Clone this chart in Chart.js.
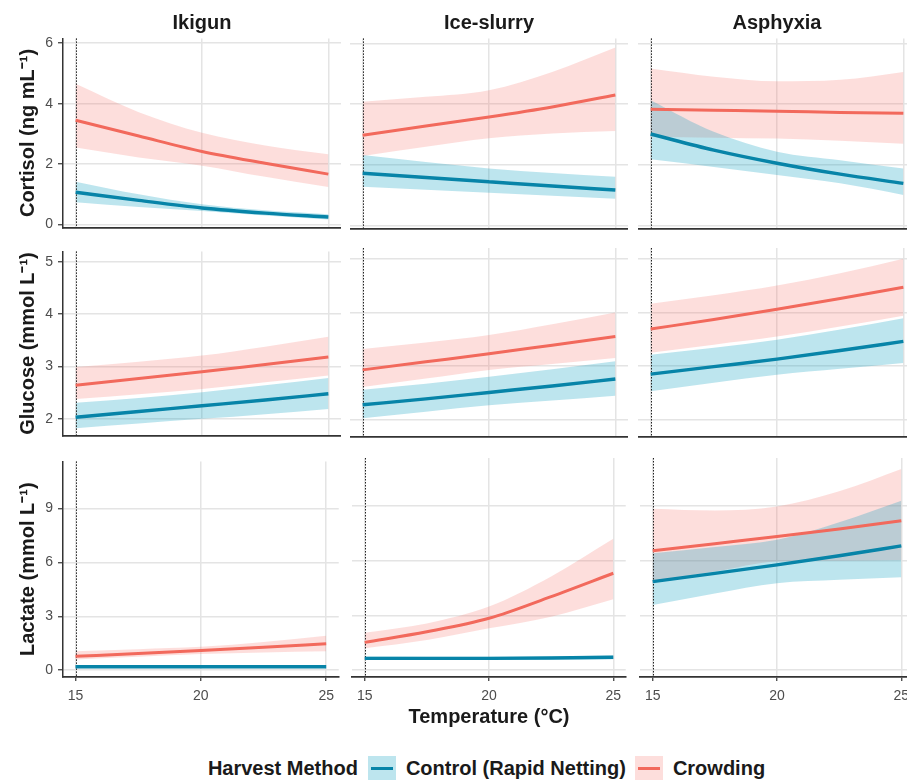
<!DOCTYPE html>
<html>
<head>
<meta charset="utf-8">
<script src="https://cdn.jsdelivr.net/npm/chart.js@4.4.1/dist/chart.umd.min.js"></script>
<style>
  html, body { margin: 0; padding: 0; background: #fff; }
  body { width: 907px; height: 780px; position: relative; overflow: hidden; font-family: "Liberation Sans", Arial, sans-serif; }
  .panel { position: absolute; }
  #legend { position: absolute; left: 0; top: 756px; width: 982px; height: 24px; display: flex; justify-content: center; align-items: center;
            font-weight: bold; font-size: 20px; color: #1a1a1a; white-space: nowrap; }
  #legend .title { margin-right: 10px; }
  #legend .key { display: inline-block; width: 28px; height: 24px; margin-right: 10px; position: relative; }
  #legend .key span { position: absolute; left: 3px; right: 3px; top: 10.5px; height: 3px; }
  #legend .label { margin-right: 9px; }
</style>
</head>
<body>
<div id="legend"></div>
<script>
const temperature = [15, 17.5, 20, 22.5, 25];
const methods = ['Ikigun', 'Ice-slurry', 'Asphyxia'];
const groups = ['Control (Rapid Netting)', 'Crowding'];
const measures = ['Cortisol (ng mL⁻¹)', 'Glucose (mmol L⁻¹)', 'Lactate (mmol L⁻¹)'];
const xTicks = [15, 20, 25];
const cortisolTicks = [0, 2, 4, 6];
const glucoseTicks = [2, 3, 4, 5];
const lactateTicks = [0, 3, 6, 9];
const cutoffTemp = 15; // dotted line

// each array: one row per harvest method (Ikigun, Ice-slurry, Asphyxia)
const cortisolControl     = [[1.07, 0.80, 0.55, 0.38, 0.25], [1.73, 1.59, 1.45, 1.31, 1.18], [3.02, 2.49, 2.06, 1.70, 1.40]];
const cortisolControlLow  = [[0.74, 0.58, 0.45, 0.30, 0.17], [1.29, 1.19, 1.09, 0.99, 0.89], [2.19, 1.94, 1.67, 1.40, 1.02]];
const cortisolControlHigh = [[1.42, 1.00, 0.67, 0.47, 0.34], [2.33, 2.10, 1.89, 1.74, 1.62], [4.13, 3.09, 2.44, 2.16, 1.89]];
const cortisolCrowd       = [[3.45, 2.93, 2.42, 2.03, 1.67], [2.98, 3.28, 3.58, 3.91, 4.30], [3.83, 3.80, 3.77, 3.73, 3.70]];
const cortisolCrowdLow    = [[2.55, 2.22, 1.95, 1.58, 1.24], [2.30, 2.60, 2.88, 3.04, 3.12], [2.93, 2.90, 2.87, 2.80, 2.70]];
const cortisolCrowdHigh   = [[4.66, 3.72, 3.04, 2.62, 2.33], [4.08, 4.24, 4.46, 5.06, 5.86], [5.17, 4.90, 4.75, 4.80, 5.06]];

const glucoseControl      = [[2.03, 2.14, 2.25, 2.36, 2.48], [2.28, 2.39, 2.51, 2.63, 2.76], [2.85, 2.99, 3.13, 3.29, 3.46]];
const glucoseControlLow   = [[1.82, 1.91, 2.00, 2.09, 2.19], [2.03, 2.15, 2.27, 2.36, 2.45], [2.53, 2.69, 2.84, 2.95, 3.06]];
const glucoseControlHigh  = [[2.31, 2.40, 2.51, 2.64, 2.78], [2.56, 2.67, 2.80, 2.94, 3.09], [3.21, 3.34, 3.49, 3.68, 3.89]];
const glucoseCrowd        = [[2.64, 2.77, 2.90, 3.04, 3.18], [2.93, 3.08, 3.23, 3.39, 3.55], [3.69, 3.87, 4.06, 4.26, 4.47]];
const glucoseCrowdLow     = [[2.38, 2.47, 2.57, 2.70, 2.83], [2.61, 2.77, 2.93, 3.04, 3.15], [3.25, 3.40, 3.55, 3.74, 3.94]];
const glucoseCrowdHigh    = [[2.99, 3.09, 3.21, 3.38, 3.57], [3.32, 3.44, 3.58, 3.78, 4.00], [4.16, 4.32, 4.50, 4.73, 5.00]];

const lactateControl      = [[0.19, 0.19, 0.19, 0.19, 0.19], [0.64, 0.64, 0.64, 0.66, 0.70], [4.85, 5.30, 5.77, 6.27, 6.81]];
const lactateControlLow   = [[0.12, 0.12, 0.12, 0.12, 0.12], [0.56, 0.56, 0.57, 0.58, 0.60], [3.57, 4.20, 4.76, 4.95, 5.09]];
const lactateControlHigh  = [[0.27, 0.27, 0.27, 0.27, 0.27], [0.74, 0.73, 0.73, 0.75, 0.80], [6.41, 6.75, 7.14, 8.10, 9.29]];
const lactateCrowd        = [[0.77, 0.93, 1.10, 1.28, 1.47], [1.52, 2.10, 2.84, 4.03, 5.31], [6.54, 6.93, 7.32, 7.74, 8.19]];
const lactateCrowdLow     = [[0.60, 0.75, 0.90, 0.98, 1.05], [1.19, 1.65, 2.29, 2.93, 3.88], [4.85, 5.40, 5.95, 6.00, 6.04]];
const lactateCrowdHigh    = [[1.06, 1.17, 1.30, 1.57, 1.92], [2.05, 2.56, 3.48, 5.13, 7.20], [8.85, 8.75, 8.97, 9.80, 11.03]];

const ctrlLine = '#0784a8', ctrlFill = 'rgba(0,155,190,0.26)';
const crowdLine = '#f2695c', crowdFill = 'rgba(248,118,109,0.24)';
const tickColor = '#4d4d4d', axisColor = '#333333', gridColor = '#e4e4e4';
const fontFamily = '"Liberation Sans", Arial, sans-serif';
Chart.defaults.font.family = fontFamily;

const rows = [
  { title: measures[0], ticks: cortisolTicks, min: -0.1, max: 6.16,
    ctrl: [cortisolControl, cortisolControlLow, cortisolControlHigh], crowd: [cortisolCrowd, cortisolCrowdLow, cortisolCrowdHigh] },
  { title: measures[1], ticks: glucoseTicks, min: 1.68, max: 5.2,
    ctrl: [glucoseControl, glucoseControlLow, glucoseControlHigh], crowd: [glucoseCrowd, glucoseCrowdLow, glucoseCrowdHigh] },
  { title: measures[2], ticks: lactateTicks, min: -0.38, max: 11.63,
    ctrl: [lactateControl, lactateControlLow, lactateControlHigh], crowd: [lactateCrowd, lactateCrowdLow, lactateCrowdHigh] }
];

// panel placement in the page
const colLeft = [63, 350, 638];
const panelW = 277;
const rowTop = [38, 248, 458];
const rowBottom = [229, 437, 677];

const cutoffLine = {
  id: 'cutoffLine',
  beforeDatasetsDraw(chart) {
    const { ctx, chartArea, scales } = chart;
    const x = Math.round(scales.x.getPixelForValue(cutoffTemp)) + 0.5;
    ctx.save();
    ctx.strokeStyle = '#222';
    ctx.lineWidth = 1;
    ctx.setLineDash([1.5, 1.5]);
    ctx.beginPath();
    ctx.moveTo(x, chartArea.top);
    ctx.lineTo(x, chartArea.bottom);
    ctx.stroke();
    ctx.restore();
  }
};

function pts(arr) {
  return temperature.map((t, i) => ({ x: t, y: arr[i] }));
}

function band(data, fill, color) {
  return { data: pts(data), borderColor: 'transparent', borderWidth: 0, pointRadius: 0,
           fill: fill, backgroundColor: color, cubicInterpolationMode: 'monotone' };
}

rows.forEach((row, r) => {
  methods.forEach((method, c) => {
    const yAxisW = c === 0 ? 63 : 0;
    const xAxisH = r === 2 ? 28 : 12;
    const topPad = r === 0 ? 0 : 10;
    const topBox = r === 0 ? 38.4 : topPad;
    const bottomTitle = r === 2 && c === 1;
    const canvasTop = rowTop[r] - topBox;
    const canvasH = rowBottom[r] - canvasTop + xAxisH + (bottomTitle ? 28 : 0);
    const canvasLeft = colLeft[c] - yAxisW;
    const canvasW = yAxisW + panelW + 1;

    const wrap = document.createElement('div');
    wrap.className = 'panel';
    wrap.style.left = canvasLeft + 'px';
    wrap.style.top = canvasTop + 'px';
    const canvas = document.createElement('canvas');
    canvas.width = canvasW;
    canvas.height = Math.round(canvasH);
    wrap.appendChild(canvas);
    document.body.appendChild(wrap);

    let titleOpts = { display: false };
    if (r === 0) {
      titleOpts = { display: true, text: method, fullSize: false, color: '#1a1a1a',
                    font: { size: 20, weight: 'bold' }, padding: { top: 11, bottom: 3.4 } };
    } else if (bottomTitle) {
      titleOpts = { display: true, text: 'Temperature (°C)', position: 'bottom', fullSize: false, color: '#1a1a1a',
                    font: { size: 20, weight: 'bold' }, padding: { top: 0, bottom: 4 } };
    }

    new Chart(canvas, {
      type: 'line',
      data: {
        datasets: [
          band(row.ctrl[1][c], false, 'transparent'),
          band(row.ctrl[2][c], '-1', ctrlFill),
          band(row.crowd[1][c], false, 'transparent'),
          band(row.crowd[2][c], '-1', crowdFill),
          { label: groups[0], data: pts(row.ctrl[0][c]), borderColor: ctrlLine, borderWidth: 3.4,
            pointRadius: 0, fill: false, cubicInterpolationMode: 'monotone' },
          { label: groups[1], data: pts(row.crowd[0][c]), borderColor: crowdLine, borderWidth: 3,
            pointRadius: 0, fill: false, cubicInterpolationMode: 'monotone' }
        ]
      },
      plugins: [cutoffLine],
      options: {
        responsive: false,
        animation: false,
        devicePixelRatio: 1,
        layout: { padding: { top: topPad, left: 0, right: 0, bottom: 0 } },
        plugins: {
          legend: { display: false },
          tooltip: { enabled: false },
          filler: { drawTime: 'beforeDatasetsDraw' },
          title: titleOpts
        },
        scales: {
          x: {
            type: 'linear', min: 14.5, max: 25.5,
            afterBuildTicks: s => { s.ticks = xTicks.map(v => ({ value: v })); },
            afterFit: s => { s.height = xAxisH; },
            grid: { color: gridColor, lineWidth: 1.5, drawTicks: r === 2, tickLength: 4, tickColor: axisColor, tickWidth: 1.2 },
            border: { display: true, color: axisColor, width: 1.8 },
            ticks: { display: r === 2, color: tickColor, font: { size: 14 }, padding: 7, maxRotation: 0 }
          },
          y: {
            min: row.min, max: row.max,
            afterBuildTicks: s => { s.ticks = row.ticks.map(v => ({ value: v })); },
            afterFit: s => { s.width = yAxisW; },
            grid: { color: gridColor, lineWidth: 1.5, drawTicks: c === 0, tickLength: 5, tickColor: axisColor, tickWidth: 1.2 },
            border: { display: c === 0, color: axisColor, width: 1.5 },
            ticks: { display: c === 0, color: tickColor, font: { size: 14 }, padding: 5 },
            title: { display: c === 0, text: row.title, color: '#1a1a1a', font: { size: 20, weight: 'bold' },
                     padding: { top: 16, bottom: 0 } }
          }
        }
      }
    });
  });
});

// legend built from the group names and colours
const legend = document.getElementById('legend');
legend.innerHTML = '<span class="title">Harvest Method</span>' +
  [[groups[0], ctrlFill, ctrlLine], [groups[1], crowdFill, crowdLine]].map(([name, fill, line]) =>
    '<span class="key" style="background:' + fill + '"><span style="background:' + line + '"></span></span>' +
    '<span class="label">' + name + '</span>').join('');
</script>
</body>
</html>
